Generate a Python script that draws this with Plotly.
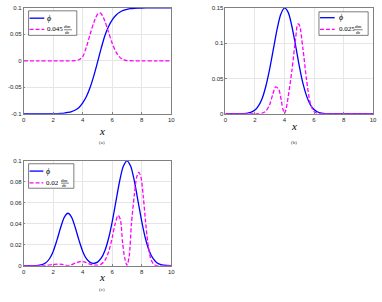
import plotly.graph_objects as go

# ---------------- data ----------------
# panel (a)
xa = [0, 0.5, 1, 1.5, 2, 2.5, 2.75, 3, 3.25, 3.5, 3.75, 4, 4.25, 4.5, 4.75, 5, 5.25, 5.5,
      5.75, 6, 6.25, 6.5, 6.75, 7, 7.25, 7.5, 7.75, 8, 8.5, 9, 9.5, 10]
phi_a = [-0.1, -0.1, -0.1, -0.1, -0.0998, -0.0993, -0.0987, -0.0975, -0.0958, -0.0930, -0.0882,
         -0.0795, -0.0675, -0.0505, -0.0285, -0.0030, 0.0235, 0.0475, 0.0650, 0.0775, 0.0862,
         0.0918, 0.0952, 0.0972, 0.0985, 0.0992, 0.0996, 0.0998, 0.1, 0.1, 0.1, 0.1]
xda = [0, 1, 2, 3, 3.5, 3.75, 4, 4.25, 4.5, 4.75, 5, 5.125, 5.25, 5.5, 5.75, 6, 6.25, 6.5,
       6.75, 7, 8, 9, 10]
dm_a = [0, 0, 0, 0, 0.0003, 0.002, 0.008, 0.026, 0.050, 0.072, 0.088, 0.0905, 0.0890, 0.075,
        0.054, 0.033, 0.017, 0.007, 0.002, 0.0005, 0, 0, 0]

# panel (b)
xb = [0, 0.5, 1, 1.5, 1.75, 2, 2.25, 2.5, 2.75, 3, 3.25, 3.5, 3.75, 4, 4.25, 4.5, 4.75, 5,
      5.25, 5.5, 5.75, 6, 6.25, 6.5, 6.75, 7, 7.5, 8, 9, 10]
phi_b = [0, 0, 0.0001, 0.0008, 0.0022, 0.0053, 0.0115, 0.0224, 0.040, 0.064, 0.092, 0.120,
         0.141, 0.150, 0.1436, 0.124, 0.097, 0.068, 0.043, 0.025, 0.0128, 0.006, 0.0025,
         0.001, 0.0003, 0.0001, 0, 0, 0, 0]
xdb = [0, 1, 2, 2.25, 2.5, 2.75, 3, 3.2, 3.4, 3.6, 3.8, 3.9, 4.0, 4.1, 4.25, 4.5, 4.75, 4.9,
       5.0, 5.25, 5.5, 5.75, 6, 6.25, 7, 8, 9, 10]
dm_b = [0, 0, 0, 0.0002, 0.001, 0.004, 0.013, 0.027, 0.038, 0.035, 0.017, 0.006, 0.0005,
        0.006, 0.024, 0.061, 0.106, 0.127, 0.126, 0.092, 0.047, 0.015, 0.003, 0.0005, 0, 0, 0, 0]

# panel (c)
xc = [0, 0.5, 1, 1.25, 1.5, 1.75, 2, 2.25, 2.5, 2.75, 3, 3.25, 3.5, 3.75, 4, 4.25, 4.5, 4.75,
      5, 5.25, 5.5, 5.75, 6, 6.25, 6.5, 6.75, 7, 7.25, 7.5, 7.75, 8, 8.25, 8.5, 8.75, 9, 9.25,
      9.5, 10]
phi_c = [0, 0, 0.0003, 0.0009, 0.0027, 0.0066, 0.0136, 0.0241, 0.0361, 0.0461, 0.05, 0.0461,
         0.0361, 0.0241, 0.0136, 0.0067, 0.0032, 0.0022, 0.0034, 0.0071, 0.0143, 0.0259,
         0.0421, 0.0614, 0.0805, 0.0947, 0.1, 0.0947, 0.0805, 0.0614, 0.0421, 0.0259, 0.0143,
         0.0071, 0.0031, 0.0012, 0.00045, 0]
xdc = [0, 1, 1.5, 2, 2.3, 2.6, 2.85, 3.0, 3.2, 3.5, 3.75, 3.9, 4.1, 4.4, 4.7, 5.0, 5.25, 5.5,
       5.75, 6.0, 6.2, 6.4, 6.55, 6.7, 6.85, 7.0, 7.15, 7.3, 7.5, 7.65, 7.8, 7.95, 8.1, 8.25,
       8.4, 8.6, 8.8, 9.0, 10]
dm_c = [0, 0, 0.0003, 0.0011, 0.0015, 0.0012, 0.0005, 0.0001, 0.0006, 0.0025, 0.0037, 0.004,
        0.0036, 0.002, 0.0007, 0.0005, 0.0015, 0.005, 0.013, 0.027, 0.040, 0.048, 0.044,
        0.022, 0.007, 0.0003, 0.009, 0.040, 0.068, 0.084, 0.089, 0.084, 0.066, 0.043, 0.023,
        0.007, 0.0015, 0, 0]

coef_dm = ["0.045", "0.025", "0.02"]
captions = ["(a)", "(b)", "(c)"]
x_ticks = [0, 2, 4, 6, 8, 10]
ya_ticks = [-0.1, -0.05, 0, 0.05, 0.1]
ya_text = ["-0.1", "-0.05", "0", "0.05", "0.1"]
yb_ticks = [0, 0.05, 0.1, 0.15]
yb_text = ["0", "0.05", "0.1", "0.15"]
yc_ticks = [0, 0.02, 0.04, 0.06, 0.08, 0.1]
yc_text = ["0", "0.02", "0.04", "0.06", "0.08", "0.1"]

BLUE = "#0000ff"
MAG = "#ff00ff"
W, H = 382, 302
DASH = "4px,2px"

fig = go.Figure()

panels = [
    (xa, phi_a, xda, dm_a, "x", "y"),
    (xb, phi_b, xdb, dm_b, "x2", "y2"),
    (xc, phi_c, xdc, dm_c, "x3", "y3"),
]
for i, (xp, yp, xd, yd, xr, yr) in enumerate(panels):
    fig.add_trace(go.Scatter(x=xp, y=yp, mode="lines", xaxis=xr, yaxis=yr, showlegend=False,
                             line=dict(color=BLUE, width=1.3, shape="spline", smoothing=0.8),
                             name="ϕ"))
    fig.add_trace(go.Scatter(x=xd, y=yd, mode="lines", xaxis=xr, yaxis=yr, showlegend=False,
                             line=dict(color=MAG, width=1.3, dash=DASH, shape="spline",
                                       smoothing=0.8),
                             name=coef_dm[i] + " dm/dr"))


def px_x(a, b):
    return [a / W, b / W]


def px_y(top, bot):
    return [1 - bot / H, 1 - top / H]


def fx(p):
    return p / W


def fy(p):
    return 1 - p / H


axis_common = dict(showgrid=True, gridcolor="#e6e6e6", gridwidth=0.6, zeroline=False,
                   showline=True, linecolor="#808080", linewidth=0.6, mirror=True,
                   ticks="inside", ticklen=2, tickcolor="#808080", tickwidth=0.6,
                   tickfont=dict(family="Liberation Sans, Arial, sans-serif", size=6,
                                 color="#262626"))

fig.update_layout(
    width=W, height=H, margin=dict(l=0, r=0, t=0, b=0),
    paper_bgcolor="white", plot_bgcolor="white", showlegend=False,
    xaxis=dict(domain=px_x(22, 172), range=[0, 10], tickvals=x_ticks, anchor="y", **axis_common),
    yaxis=dict(domain=px_y(5, 113), range=[-0.1, 0.1], tickvals=ya_ticks, ticktext=ya_text,
               anchor="x", **axis_common),
    xaxis2=dict(domain=px_x(227, 377), range=[0, 10], tickvals=x_ticks, anchor="y2", **axis_common),
    yaxis2=dict(domain=px_y(5, 113), range=[0, 0.15], tickvals=yb_ticks, ticktext=yb_text,
                anchor="x2", **axis_common),
    xaxis3=dict(domain=px_x(22, 172), range=[0, 10], tickvals=x_ticks, anchor="y3", **axis_common),
    yaxis3=dict(domain=px_y(161, 268), range=[0, 0.1], tickvals=yc_ticks, ticktext=yc_text,
                anchor="x3", **axis_common),
)

SERIF = "Liberation Serif, DejaVu Serif, serif"

# hand-built legends (box, line samples, labels) in pixel positions
# (left, top, right, bottom, line_x0, line_x1, text_x, y_phi, y_dm, frac_x)
legends = [
    (27, 8, 76, 33, 28, 43, 44, 15.5, 27, 67),
    (322, 9, 372, 33, 323, 338, 340, 15, 27, 362.5),
    (27, 164, 73, 189, 28, 42, 43, 171.5, 183.5, 64),
]
for i, (l, t, r, b, lx0, lx1, tx, yphi, ydm, fxc) in enumerate(legends):
    fig.add_shape(type="rect", xref="paper", yref="paper", x0=fx(l), x1=fx(r), y0=fy(b), y1=fy(t),
                  line=dict(color="#262626", width=0.6), fillcolor="white", layer="above")
    fig.add_shape(type="line", xref="paper", yref="paper", x0=fx(lx0), x1=fx(lx1),
                  y0=fy(yphi), y1=fy(yphi), line=dict(color=BLUE, width=1.3), layer="above")
    fig.add_shape(type="line", xref="paper", yref="paper", x0=fx(lx0), x1=fx(lx1),
                  y0=fy(ydm), y1=fy(ydm), line=dict(color=MAG, width=1.3, dash=DASH),
                  layer="above")
    fig.add_annotation(x=fx(tx), y=fy(yphi), xref="paper", yref="paper", text="<i>ϕ</i>",
                       xanchor="left", yanchor="middle", showarrow=False,
                       font=dict(family=SERIF, size=8, color="black"))
    fig.add_annotation(x=fx(tx), y=fy(ydm), xref="paper", yref="paper", text=coef_dm[i],
                       xanchor="left", yanchor="middle", showarrow=False,
                       font=dict(family=SERIF, size=7, color="black"))
    # small stacked fraction dm/dr
    fig.add_annotation(x=fx(fxc), y=fy(ydm - 2.6), xref="paper", yref="paper", text="dm",
                       xanchor="center", yanchor="middle", showarrow=False,
                       font=dict(family=SERIF, size=5, color="black"))
    fig.add_annotation(x=fx(fxc), y=fy(ydm + 2.8), xref="paper", yref="paper", text="dr",
                       xanchor="center", yanchor="middle", showarrow=False,
                       font=dict(family=SERIF, size=5, color="black"))
    fig.add_shape(type="line", xref="paper", yref="paper", x0=fx(fxc - 4), x1=fx(fxc + 4),
                  y0=fy(ydm + 0.3), y1=fy(ydm + 0.3), line=dict(color="black", width=0.5),
                  layer="above")

# axis labels and panel captions
caps = [(97, 131, 142), (302, 126, 142), (97, 288, 297)]
for i, (cx, xy, cy) in enumerate(caps):
    fig.add_annotation(x=fx(cx), y=fy(xy), xref="paper", yref="paper", text="<i>x</i>",
                       showarrow=False, font=dict(family=SERIF, size=11, color="black"))
    fig.add_annotation(x=fx(cx), y=fy(cy), xref="paper", yref="paper", text=captions[i],
                       showarrow=False, font=dict(family=SERIF, size=5, color="#333333"))

fig.write_html("out.html", config={"displayModeBar": False},
               post_script="document.body.style.margin='0';")
